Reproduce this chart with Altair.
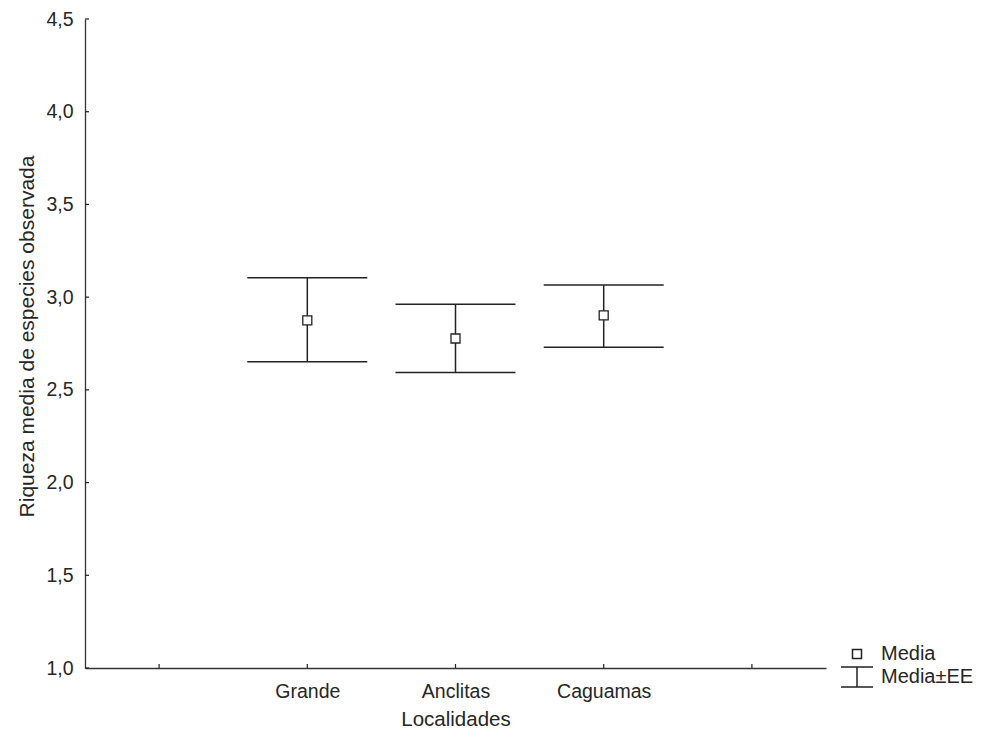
import json
import altair as alt
import pandas as pd

# ---- data ----
slots = ["", "Grande", "Anclitas", "Caguamas", ""]
localidades = ["Grande", "Anclitas", "Caguamas"]
media = [2.875, 2.777, 2.902]
ee_inf = [2.652, 2.594, 2.730]
ee_sup = [3.104, 2.961, 3.065]
y_ticks = [1.0, 1.5, 2.0, 2.5, 3.0, 3.5, 4.0, 4.5]
legend_items = ["Media", "Media±EE"]

FONT = "Liberation Sans, Arial, sans-serif"
INK = "#222222"
TXT = "#262626"

df = pd.DataFrame({
    "loc": localidades,
    "pos": [slots.index(l) for l in localidades],
    "media": media,
    "inf": ee_inf,
    "sup": ee_sup,
    "kind": ["Media"] * len(localidades),
})
ytick_df = pd.DataFrame({"media": y_ticks})
xtick_df = pd.DataFrame({"pos": list(range(len(slots)))})

x_dom = [-0.5, len(slots) - 0.5]
x_scale = alt.Scale(domain=x_dom, nice=False, zero=False)
y_scale = alt.Scale(domain=[y_ticks[0], y_ticks[-1]], nice=False, zero=False)

x_axis = alt.Axis(
    title="Localidades",
    values=list(range(len(slots))),
    labelExpr=json.dumps(slots) + "[datum.value]",
    ticks=False,
    grid=False,
    labelBaseline="alphabetic",
    labelPadding=29,
    titleBaseline="alphabetic",
    titleFontSize=20.5,
    titleY=57,
    titleX=370.5,
)
y_axis = alt.Axis(
    title="Riqueza media de especies observada",
    values=y_ticks,
    labelExpr="replace(format(datum.value, '.1f'), '.', ',')",
    ticks=False,
    grid=False,
    labelPadding=12,
    titleBaseline="alphabetic",
    titleFontSize=21,
    titleAngle=270,
    titleX=-52,
    titleY=317,
)

X = lambda f: alt.X(f, type="quantitative", scale=x_scale, axis=x_axis)
Y = lambda f: alt.Y(f, type="quantitative", scale=y_scale, axis=y_axis)

sq_path = "M-0.45,-0.45H0.45V0.45H-0.45Z"
i_path = "M-1.6,-1H1.6M0,-1V1M-1.6,1H1.6"

base = alt.Chart(df)

stem = base.mark_rule(color=INK, strokeWidth=1.5).encode(
    x=X("pos"), y=Y("inf"), y2="sup"
)
cap_lo = base.mark_tick(orient="horizontal", size=120, thickness=1.5, color=INK, opacity=1).encode(
    x=X("pos"), y=Y("inf")
)
cap_hi = base.mark_tick(orient="horizontal", size=120, thickness=1.5, color=INK, opacity=1).encode(
    x=X("pos"), y=Y("sup")
)
pts = base.mark_point(filled=False, fill="white", stroke=INK, strokeWidth=1.3, size=400, opacity=1).encode(
    x=X("pos"),
    y=Y("media"),
    shape=alt.Shape(
        "kind:N",
        scale=alt.Scale(domain=legend_items, range=[sq_path, i_path]),
        legend=alt.Legend(
            title=None,
            orient="none",
            legendX=761,
            legendY=624,
            symbolSize=400,
            labelFont=FONT,
            labelFontSize=20,
            labelColor=TXT,
            labelOffset=13,
            rowPadding=0,
            padding=0,
        ),
    ),
)

ytick_marks = alt.Chart(ytick_df).mark_tick(
    orient="horizontal", size=4, thickness=1.2, xOffset=2, color=INK, opacity=1
).encode(x=alt.X(datum=x_dom[0], type="quantitative", scale=x_scale, axis=x_axis), y=Y("media"))

xtick_marks = alt.Chart(xtick_df).mark_tick(
    orient="vertical", size=4, thickness=1.2, yOffset=-2, color=INK, opacity=1
).encode(x=X("pos"), y=alt.Y(datum=y_ticks[0], type="quantitative", scale=y_scale, axis=y_axis))

chart = alt.layer(ytick_marks, xtick_marks, stem, cap_lo, cap_hi, pts).properties(
    width=741,
    height=649,
    padding={"left": 77, "top": 11, "right": 147, "bottom": 62},
    autosize=alt.AutoSizeParams(type="none"),
    background="white",
).configure_view(stroke=None).configure_axis(
    domainColor="#333333",
    domainWidth=1.3,
    labelFont=FONT,
    titleFont=FONT,
    labelFontSize=19.5,
    titleFontSize=21,
    titleFontWeight="normal",
    labelColor=TXT,
    titleColor=TXT,
)

chart.save("out.html", embed_options={"renderer": "svg", "actions": False})
